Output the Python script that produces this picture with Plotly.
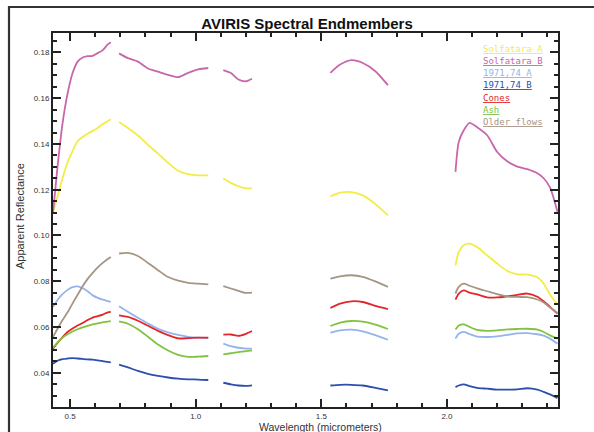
import plotly.graph_objects as go

# ---- data (wavelength segments in micrometers; gaps = water absorption bands) ----
wavelength_segments = [
    [0.432, 0.45, 0.47, 0.49, 0.51, 0.53, 0.55, 0.57, 0.59, 0.61, 0.63, 0.65, 0.662],
    [0.695, 0.73, 0.77, 0.81, 0.85, 0.89, 0.93, 0.97, 1.01, 1.05],
    [1.11, 1.14, 1.17, 1.20, 1.224],
    [1.536, 1.575, 1.62, 1.665, 1.715, 1.765],
    [2.034, 2.047, 2.067, 2.09, 2.12, 2.16, 2.20, 2.24, 2.28, 2.32, 2.36, 2.385, 2.41, 2.44],
]

solfatara_a = [
    [0.110, 0.117, 0.125, 0.132, 0.137, 0.1412, 0.143, 0.1445, 0.1457, 0.147, 0.1487, 0.150, 0.1508],
    [0.1496, 0.147, 0.1437, 0.1396, 0.1358, 0.1317, 0.1283, 0.1268, 0.1263, 0.1263],
    [0.1249, 0.123, 0.1215, 0.1206, 0.1206],
    [0.1171, 0.1187, 0.1189, 0.1175, 0.1137, 0.1088],
    [0.0869, 0.0928, 0.0957, 0.0964, 0.0949, 0.0913, 0.0877, 0.0845, 0.083, 0.0829, 0.0817, 0.0789, 0.0742, 0.0699],
]
solfatara_b = [
    [0.110, 0.130, 0.149, 0.162, 0.171, 0.176, 0.1778, 0.1784, 0.1785, 0.1797, 0.181, 0.1835, 0.1845],
    [0.1796, 0.1775, 0.176, 0.173, 0.1716, 0.1702, 0.1692, 0.1711, 0.1726, 0.1732],
    [0.1723, 0.171, 0.1682, 0.1674, 0.1685],
    [0.1711, 0.1747, 0.1766, 0.1754, 0.1718, 0.1657],
    [0.1278, 0.1409, 0.146, 0.1492, 0.1473, 0.1438, 0.1365, 0.1324, 0.1301, 0.1290, 0.1272, 0.1250, 0.1210, 0.1103],
]
flows_1971_74_a = [
    [0.0687, 0.0718, 0.0743, 0.0762, 0.0774, 0.0777, 0.0769, 0.0756, 0.0738, 0.0727, 0.0719, 0.0713, 0.0709],
    [0.0690, 0.0666, 0.0640, 0.0615, 0.0592, 0.0576, 0.0565, 0.0557, 0.0553, 0.0551],
    [0.0527, 0.0516, 0.0509, 0.0505, 0.0505],
    [0.0575, 0.0585, 0.0588, 0.0581, 0.0564, 0.0544],
    [0.0549, 0.0570, 0.0578, 0.0569, 0.0558, 0.0556, 0.0559, 0.0565, 0.0572, 0.0573, 0.0568, 0.0562, 0.0549, 0.0527],
]
flows_1971_74_b = [
    [0.0439, 0.0452, 0.0459, 0.0462, 0.0464, 0.0462, 0.0460, 0.0458, 0.0457, 0.0454, 0.0451, 0.0447, 0.0445],
    [0.0435, 0.0423, 0.0408, 0.0395, 0.0386, 0.0379, 0.0374, 0.0371, 0.0370, 0.0368],
    [0.0356, 0.0349, 0.0344, 0.0342, 0.0345],
    [0.0344, 0.0347, 0.0347, 0.0344, 0.0334, 0.0323],
    [0.0337, 0.0344, 0.0349, 0.0341, 0.0334, 0.0330, 0.0326, 0.0326, 0.0327, 0.0332, 0.0326, 0.0316, 0.0305, 0.0289],
]
cones = [
    [0.0505, 0.0530, 0.0556, 0.0578, 0.0593, 0.0606, 0.0617, 0.0630, 0.0641, 0.0647, 0.0654, 0.0664, 0.0666],
    [0.0651, 0.0644, 0.0627, 0.0605, 0.0583, 0.0564, 0.0550, 0.0551, 0.0553, 0.0553],
    [0.0566, 0.0567, 0.0561, 0.0570, 0.0582],
    [0.0683, 0.0702, 0.0712, 0.0709, 0.0692, 0.0678],
    [0.0719, 0.0746, 0.0760, 0.0750, 0.0742, 0.0729, 0.0729, 0.0734, 0.0740, 0.0746, 0.0732, 0.0712, 0.0688, 0.0658],
]
ash = [
    [0.0509, 0.0532, 0.0553, 0.0568, 0.0580, 0.0590, 0.0598, 0.0605, 0.0611, 0.0616, 0.0620, 0.0623, 0.0625],
    [0.0624, 0.0614, 0.0590, 0.0557, 0.0523, 0.0497, 0.0478, 0.0469, 0.0470, 0.0473],
    [0.0480, 0.0485, 0.0490, 0.0494, 0.0498],
    [0.0604, 0.0619, 0.0626, 0.0623, 0.0610, 0.0591],
    [0.0589, 0.0606, 0.0611, 0.0600, 0.0587, 0.0583, 0.0585, 0.0589, 0.0591, 0.0592, 0.0588, 0.0578, 0.0563, 0.0549],
]
older_flows = [
    [0.0556, 0.0592, 0.0630, 0.0664, 0.0703, 0.0741, 0.0778, 0.0810, 0.0836, 0.0860, 0.0880, 0.0897, 0.0906],
    [0.0921, 0.0924, 0.0910, 0.0880, 0.0848, 0.0818, 0.0802, 0.0793, 0.0789, 0.0786],
    [0.0778, 0.0768, 0.0758, 0.0749, 0.0750],
    [0.0811, 0.0821, 0.0826, 0.0819, 0.0799, 0.0775],
    [0.0746, 0.0775, 0.0789, 0.0780, 0.0769, 0.0756, 0.0743, 0.0733, 0.0731, 0.0730, 0.0720, 0.0707, 0.0685, 0.0661],
]

series_names = ["Solfatara A", "Solfatara B", "1971,74 A", "1971,74 B", "Cones", "Ash", "Older flows"]
series_values = [solfatara_a, solfatara_b, flows_1971_74_a, flows_1971_74_b, cones, ash, older_flows]
series_colors = ["#f3ec45", "#c965a9", "#94b4ec", "#2b4fae", "#e3262a", "#80c242", "#a59585"]

x_ticks = [0.5, 1.0, 1.5, 2.0]
y_ticks = [0.04, 0.06, 0.08, 0.10, 0.12, 0.14, 0.16, 0.18]
x_title = "Wavelength (micrometers)"
y_title = "Apparent Reflectance"
chart_title = "AVIRIS Spectral Endmembers"


def join_segments(segs):
    out = []
    for i, s in enumerate(segs):
        if i:
            out.append(None)
        out.extend(s)
    return out


W, H = 594, 432
ML, MR, MT, MB = 53, 36, 33, 25

fig = go.Figure()
x_all = join_segments(wavelength_segments)
for name, vals, col in zip(series_names, series_values, series_colors):
    fig.add_trace(go.Scatter(
        x=x_all, y=join_segments(vals), mode="lines", name=name,
        line=dict(color=col, width=1.8, shape="spline", smoothing=0.7),
        connectgaps=False, showlegend=False, hoverinfo="x+y+name"))

axis_common = dict(
    showline=True, linecolor="#222", linewidth=2, mirror="allticks",
    ticks="inside", tickcolor="#222", tickwidth=1.5, ticklen=8,
    showgrid=False, zeroline=False, automargin=False,
    tickfont=dict(family="Liberation Sans", size=8, color="#333"),
)
fig.update_xaxes(
    range=[0.432, 2.442], tickvals=x_ticks, ticktext=[f"{v:.1f}" for v in x_ticks],
    minor=dict(dtick=0.1, tick0=0.0, ticks="inside", ticklen=4, tickcolor="#222", tickwidth=1.5),
    **axis_common)
fig.update_yaxes(
    range=[0.025, 0.1885], tickvals=y_ticks, ticktext=[f"{v:.2f}" for v in y_ticks],
    minor=dict(dtick=0.005, tick0=0.0, ticks="inside", ticklen=4, tickcolor="#222", tickwidth=1.5),
    **axis_common)

pw, ph = W - ML - MR, H - MT - MB


def px_to_paper(px, py):
    return (px - ML) / pw, (H - MB - py) / ph


# axis titles
xp, yp = px_to_paper(320, 427)
fig.add_annotation(x=xp, y=yp, xref="paper", yref="paper", xanchor="center", yanchor="middle",
                   text=x_title, showarrow=False, borderpad=0,
                   font=dict(family="Liberation Sans", size=10.5, color="#333"))
xp, yp = px_to_paper(20, 216)
fig.add_annotation(x=xp, y=yp, xref="paper", yref="paper", xanchor="center", yanchor="middle",
                   text=y_title, showarrow=False, textangle=-90,
                   font=dict(family="Liberation Sans", size=11, color="#333"))

# legend as coloured, underlined text
leg_y = [49, 61, 72.5, 84.5, 97.5, 110, 122.3]
for name, col, yy in zip(series_names, series_colors, leg_y):
    xp, yp = px_to_paper(481, yy)
    fig.add_annotation(x=xp, y=yp, xref="paper", yref="paper", xanchor="left", yanchor="middle",
                       text=f"<u>{name}</u>", showarrow=False,
                       font=dict(family="DejaVu Sans Mono", size=9, color=col))

# page frame (top and left edges) drawn as one open path
fx0, fy0 = px_to_paper(9, 7)
fx1, fy1 = px_to_paper(W + 5, H + 5)
fig.add_shape(type="path", xref="paper", yref="paper",
              path=f"M {fx0},{fy1} L {fx0},{fy0} L {fx1},{fy0}",
              line=dict(color="#333", width=2.2))

fig.update_layout(
    width=W, height=H, margin=dict(l=ML, r=MR, t=MT, b=MB),
    paper_bgcolor="white", plot_bgcolor="white",
    title=dict(text=f"<b>{chart_title}</b>", x=(307 / W), xanchor="center",
               y=1 - 24 / H, yanchor="middle",
               font=dict(family="Liberation Sans", size=15, color="#111")),
)

fig.write_html("out.html", config={"displayModeBar": False},
               post_script="document.body.style.margin='0';document.body.style.overflow='hidden';"
                           "document.documentElement.style.overflow='hidden';")
